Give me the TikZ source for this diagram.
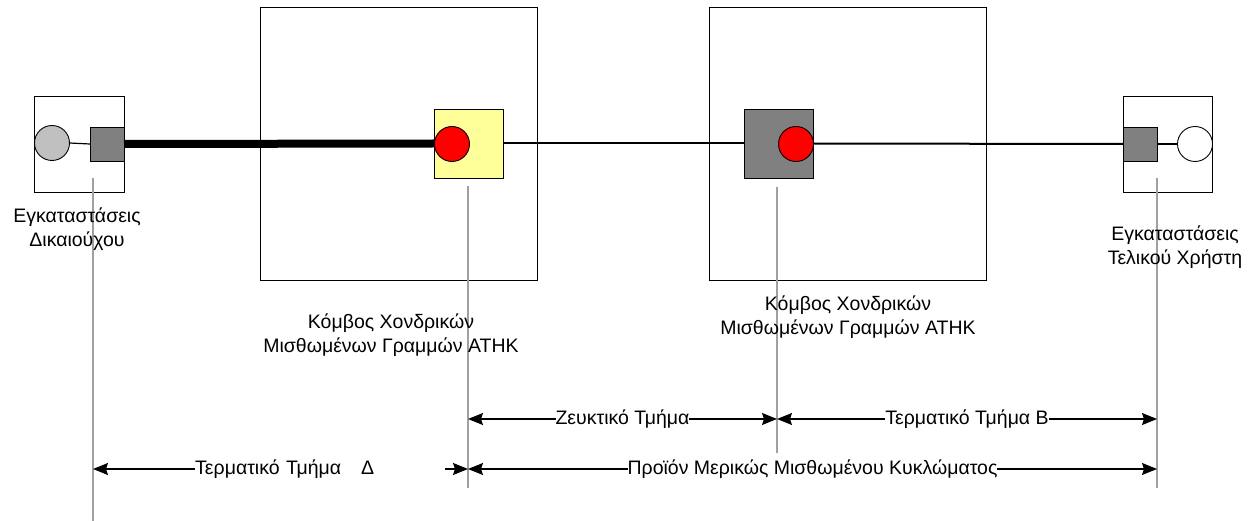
\documentclass[tikz,border=0pt]{standalone}
\usepackage{fontspec}
\setmainfont{Liberation Sans}
\usetikzlibrary{arrows.meta}
\definecolor{ygl}{HTML}{FFFF99}
\definecolor{dgr}{HTML}{808080}
\definecolor{lgr}{HTML}{C0C0C0}
\definecolor{vgr}{HTML}{A0A0A0}
\begin{document}
\begin{tikzpicture}[x=1pt,y=-1pt,
  frame/.style={draw=black,line width=0.9pt,inner sep=0,outer sep=0},
  sqbox/.style={frame,minimum width=#1,minimum height=#1},
  dot/.style={draw=black,line width=0.9pt,circle,inner sep=0,outer sep=0,minimum size=35pt},
  guide/.style={draw=vgr,line width=1.3pt},
  dim/.style={line width=1.2pt,{Stealth[length=15pt,width=12pt,inset=2pt]}-{Stealth[length=15pt,width=12pt,inset=2pt]}},
  lbl/.style={font=\fontsize{19.5}{24}\selectfont,align=center,inner sep=0},
  dlbl/.style={font=\fontsize{19.5}{22}\selectfont,fill=white,inner sep=0}]
\useasboundingbox (0,0) rectangle (1250,521);
% boxes
\node[frame,minimum width=90pt,minimum height=96pt] (lbox) at (79,144) {};
\node[frame,minimum width=277pt,minimum height=273pt] (bb1) at (398.5,143.5) {};
\node[frame,minimum width=277pt,minimum height=273pt] (bb2) at (847.5,143.5) {};
\node[frame,minimum width=89pt,minimum height=96pt] (rbox) at (1167.5,144) {};
% guide lines
\coordinate (v1t) at (93,178); \coordinate (v1b) at (93,521);
\coordinate (v2t) at (468,186); \coordinate (v2b) at (468,488);
\coordinate (v3t) at (777,187); \coordinate (v3b) at (777,453);
\coordinate (v4t) at (1157,178); \coordinate (v4b) at (1157,488);
\draw[guide] (v1t) -- (v1b);
\draw[guide] (v2t) -- (v2b);
\draw[guide] (v3t) -- (v3b);
\draw[guide] (v4t) -- (v4b);
% left side
\node[dot,fill=lgr] (lc) at (52,143) {};
\node[sqbox=34pt,fill=dgr] (lsq) at (107,144) {};
\draw[line width=1.2pt] (lc.east) -- (lsq.west);
% node 1
\node[sqbox=69pt,fill=ygl] (ysq) at (468.5,143.5) {};
\draw[line width=8pt] (lsq.east) -- (ysq.west);
\node[dot,fill=red] (rc1) at (452,144) {};
% node 2
\node[sqbox=69pt,fill=dgr] (gsq) at (778.5,143.5) {};
\node[dot,fill=red] (rc2) at (796,144) {};
\draw[line width=2pt] (ysq.east) -- (gsq.west);
% right side
\node[sqbox=34pt,fill=dgr] (rsq) at (1140,144) {};
\node[dot,fill=white] (wc) at (1195,144) {};
\draw[line width=2pt] (gsq.east) -- (rsq.west);
\draw[line width=1.2pt] (rsq.east) -- (wc.west);
% labels
\node[lbl] (l1) at (77,229) {Εγκαταστάσεις\\Δικαιούχου};
\node[lbl] (l2) at (391,335) {Κόμβος Χονδρικών\\Μισθωμένων Γραμμών ΑΤΗΚ};
\node[lbl] (l3) at (848,317) {Κόμβος Χονδρικών\\Μισθωμένων Γραμμών ΑΤΗΚ};
\node[lbl] (l4) at (1175,247) {Εγκαταστάσεις\\Τελικού Χρήστη};
% dimension row 1
\coordinate (a1) at (468,419); \coordinate (a2) at (777,419); \coordinate (a3) at (1157,419);
\draw[dim] (a1) -- node[dlbl] {Ζευκτικό Τμήμα} (a2);
\draw[dim] (a2) -- node[dlbl] {Τερματικό Τμήμα Β} (a3);
% dimension row 2
\coordinate (b1) at (93,469); \coordinate (b2) at (468,469); \coordinate (b3) at (1157,469);
\draw[dim] (b1) -- (b2);
\node[dlbl,anchor=west,text width=250pt,align=left] (tl) at (195,469) {Τερματικό Τμήμα\hspace{20pt}Δ};
\draw[dim] (b2) -- node[dlbl] {Προϊόν Μερικώς Μισθωμένου Κυκλώματος} (b3);
\end{tikzpicture}
\end{document}
